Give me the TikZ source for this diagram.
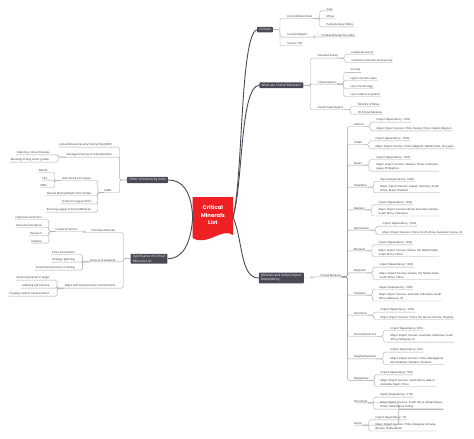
\documentclass[tikz,border=0pt]{standalone}
\usepackage{fontspec}
\setmainfont{Open Sans}
\newfontfamily\poppins{Poppins}
\usetikzlibrary{calc}
\definecolor{dbg}{RGB}{74,74,86}
\definecolor{cred}{RGB}{238,32,36}
\definecolor{ln}{RGB}{165,165,165}
\definecolor{txt}{RGB}{40,40,40}
\tikzset{
 lr/.style={font=\fontsize{2.7}{4}\selectfont, text=txt, inner xsep=0.5pt, inner ysep=0.6pt, anchor=west, align=left},
 ll/.style={lr, anchor=east, align=right},
 dbox/.style={fill=dbg, rounded corners=0.8pt, text=white, font=\fontsize{3.2}{4.2}\selectfont, inner xsep=2.2pt, inner ysep=1.6pt, align=left},
 mainlink/.style={draw=dbg, line width=0.9pt},
 sublink/.style={draw=ln, line width=0.35pt, rounded corners=1.5pt},
}
\newcommand\rlink[2]{\draw[sublink] let \p1=(#1.south east), \p2=(#2.south west) in (\p1) -- ({(\x1+\x2)/2},\y1) |- (\p2) -- (#2.south east);}
\newcommand\rblink[2]{\draw[sublink] let \p1=(#1.east), \p2=(#2.south west) in (\p1) -- ({(\x1+\x2)/2},\y1) |- (\p2) -- (#2.south east);}
\newcommand\llink[2]{\draw[sublink] let \p1=(#1.south west), \p2=(#2.south east) in (\p1) -- ({(\x1+\x2)/2},\y1) |- (\p2) -- (#2.south west);}
\newcommand\lblink[2]{\draw[sublink] let \p1=(#1.west), \p2=(#2.south east) in (\p1) -- ({(\x1+\x2)/2},\y1) |- (\p2) -- (#2.south west);}
\newcommand\mineral[8]{%
 \node[lr] (#1) at (353.3,#2) {#3};
 \node[lr] (#1i) at (#4,#5) {#6};
 \node[lr] (#1m) at (#4,#7) {#8};
 \rlink{crm}{#1}\rlink{#1}{#1i}\rlink{#1}{#1m}}
\begin{document}
\begin{tikzpicture}[x=1pt,y=-1pt]
\fill[white] (0,0) rectangle (474,439);
\useasboundingbox (0,0) rectangle (474,439);

% centre
\fill[cred] (192.7,197) -- (233,197) -- (233,235) .. controls (222,227) and (207,247) .. (192.7,238) -- cycle;
\node[font={\fontsize{5.4}{7.7}\poppins\bfseries}, text=white, align=center] (ttl) at (212.9,215) {Critical\\Minerals\\List};
\coordinate (cR) at (233,217);
\coordinate (cL) at (192.7,217);

% main boxes
\node[dbox] (ctx) at (265,29.7) {Context};
\node[dbox] (what) at (281.3,85.3) {What are Critical Minerals?};
\node[dbox] (mid) at (281.3,278) {Minerals and India's Import\\Dependency};
\node[dbox] (oth) at (147.5,180) {Other Initiatives by India};
\node[dbox] (sig) at (149,258.8) {Significance of Critical\\Minerals List};

\draw[mainlink] (cR) .. controls (243,180) and (240,36) .. (ctx.west);
\draw[mainlink] (cR) .. controls (243,185) and (240,86) .. (what.west);
\draw[mainlink] (cR) .. controls (243,240) and (240,278) .. (mid.west);
\draw[mainlink] (cL) .. controls (191,190) and (182,180) .. (oth.east);
\draw[mainlink] (cL) .. controls (191,245) and (182,258.8) .. (sig.east);

% Context
\node[lr] (umr) at (286.7,16.7) {Union Minister Role};
\node[lr] (unv) at (286.7,35) {Unveiled Report};
\node[lr] (pib) at (286.7,44) {Source: PIB};
\node[lr] (coal) at (326,9) {Coal};
\node[lr] (mines) at (326,16.7) {Mines};
\node[lr] (parl) at (326,24.7) {Parliamentary Affairs};
\node[lr] (cmi) at (320.7,35) {“Critical Minerals for India”};
\rblink{ctx}{umr}\rblink{ctx}{unv}\rblink{ctx}{pib}
\rlink{umr}{coal}\rlink{umr}{mines}\rlink{umr}{parl}
\rlink{unv}{cmi}

% What are
\node[lr] (esg) at (317.5,56) {Essential Group};
\node[lr] (chr) at (317.5,82.3) {Characteristics};
\node[lr] (etr) at (317.5,107.7) {Expert Team Report};
\node[lr] (ind) at (351,52.3) {Industrial sectors};
\node[lr] (cty) at (351,60.3) {Country's economic and security};
\node[lr] (scar) at (350,70.3) {Scarcity};
\node[lr] (hev) at (350,78.3) {High economic value};
\node[lr] (uit) at (350,86.3) {Use in technology};
\node[lr] (uid) at (350,94.3) {Use in defence systems};
\node[lr] (mom) at (357.3,104.3) {Ministry of Mines};
\node[lr] (cmt) at (357.3,112.3) {30 Critical Minerals};
\rblink{what}{esg}\rblink{what}{chr}\rblink{what}{etr}
\rlink{esg}{ind}\rlink{esg}{cty}
\rlink{chr}{scar}\rlink{chr}{hev}\rlink{chr}{uit}\rlink{chr}{uid}
\rlink{etr}{mom}\rlink{etr}{cmt}

% Minerals and import dependency
\node[lr] (crm) at (320,275) {Critical Minerals};
\rblink{mid}{crm}
\mineral{li}{124.7}{Lithium}{376}{120}{Import Dependency: 100\%}{128.7}{Major Import Sources: Chile, Russia, China, Ireland, Belgium}
\mineral{co}{142.7}{Cobalt}{375}{138.7}{Import Dependency: 100\%}{146.7}{Major Import Sources: China, Belgium, Netherlands, US, Japan}
\mineral{ni}{163.3}{Nickel}{376}{157.3}{Import Dependency: 100\%}{167}{Major Import Sources: Sweden, China, Indonesia,\\Japan, Philippines}
\mineral{va}{185.3}{Vanadium}{379.5}{179.3}{Import Dependency: 100\%}{188.8}{Major Import Sources: Kuwait, Germany, South\\Africa, Brazil, Thailand}
\mineral{nb}{208}{Niobium}{378}{202.7}{Import Dependency: 100\%}{212}{Major Import Sources: Brazil, Australia, Canada,\\South Africa, Indonesia}
\mineral{ge}{228.3}{Germanium}{382}{224}{Import Dependency: 100\%}{232.3}{Major Import Sources: China, South Africa, Australia, France, US}
\mineral{rh}{249}{Rhenium}{378}{242.7}{Import Dependency: 100\%}{252.7}{Major Import Sources: Russia, UK, Netherlands,\\South Africa, China}
\mineral{be}{270.7}{Beryllium}{379}{265}{Import Dependency: 100\%}{275.3}{Major Import Sources: Russia, UK, Netherlands,\\South Africa, China}
\mineral{ta}{293.3}{Tantalum}{378.3}{287.3}{Import Dependency: 100\%}{296.8}{Major Import Sources: Australia, Indonesia, South\\Africa, Malaysia, US}
\mineral{sr}{313.3}{Strontium}{380}{310}{Import Dependency: 100\%}{317.3}{Major Import Sources: China, US, Russia, Estonia, Slovenia}
\mineral{zr}{334.3}{Zirconium(zircon)}{390}{328.3}{Import Dependency: 80\%}{338}{Major Import Sources: Australia, Indonesia, South\\Africa, Malaysia, US}
\mineral{gr}{356.7}{Graphite(natural)}{390}{350}{Import Dependency: 60\%}{360.3}{Major Import Sources: China, Madagascar,\\Mozambique, Vietnam, Tanzania}
\mineral{mn}{378.5}{Manganese}{380}{372.7}{Import Dependency: 50\%}{382.8}{Major Import Sources: South Africa, Gabon,\\Australia, Brazil, China}
\mineral{cr}{401}{Chromium}{379.3}{395}{Import Dependency: 2.5\%}{405}{Major Import Sources: South Africa, Mozambique,\\Oman, Switzerland, Turkey}
\mineral{si}{423.3}{Silicon}{375}{417.7}{Import Dependency: 1\%}{427}{Major Import Sources: China, Malaysia, Norway,\\Bhutan, Netherlands}

% Other initiatives
\node[ll] (msp) at (112.5,145) {Joined Mineral Security Partnership (MSP)};
\node[ll] (gsi) at (112.5,155) {Geological Survey of India (GSI) Role};
\node[ll] (kab) at (112.5,190.7) {KABIL};
\node[ll] (exp) at (50,152.7) {Exploring critical minerals};
\node[ll] (boo) at (50,160) {Boosting mining sector growth};
\node[ll] (jvc) at (91.7,178.7) {Joint Venture Company};
\node[ll] (nam) at (91.7,193.3) {Named Khanij Bidesh India Limited};
\node[ll] (frm) at (91.7,201.7) {Formed in August 2019};
\node[ll] (ens) at (91.7,210) {Ensuring supply of Critical Minerals};
\node[ll] (nal) at (48.3,170.7) {NALCO};
\node[ll] (hcl) at (48.3,178.3) {HCL};
\node[ll] (mec) at (48.3,186) {MECL};
\lblink{oth}{msp}\lblink{oth}{gsi}\lblink{oth}{kab}
\llink{gsi}{exp}\llink{gsi}{boo}
\llink{kab}{jvc}\llink{kab}{nam}\llink{kab}{frm}\llink{kab}{ens}
\llink{jvc}{nal}\llink{jvc}{hcl}\llink{jvc}{mec}

% Significance
\node[ll] (pri) at (116,230.7) {Prioritises Minerals};
\node[ll] (saf) at (116,260) {Serve as Framework};
\node[ll] (agc) at (116,286) {Aligns with Government's Commitments};
\node[ll] (isec) at (78.3,229.7) {Industrial Sectors};
\node[ll] (hte) at (42.7,217.3) {High-tech electronics};
\node[ll] (tel) at (42.7,225.7) {Telecommunications};
\node[ll] (tra) at (42.7,233.7) {Transport};
\node[ll] (def) at (42.7,241.3) {Defence};
\node[ll] (pol) at (75.5,252.3) {Policy formulation};
\node[ll] (stp) at (75.5,260) {Strategic planning};
\node[ll] (inv) at (75.5,268) {Investment decisions in mining};
\node[ll] (nz) at (50,278) {Achieving 'Net Zero' target};
\node[ll] (asr) at (50,286) {Attaining self-reliance};
\node[ll] (crs) at (50,294) {Creating resilient mineral sector};
\lblink{sig}{pri}\lblink{sig}{saf}\lblink{sig}{agc}
\llink{pri}{isec}
\llink{isec}{hte}\llink{isec}{tel}\llink{isec}{tra}\llink{isec}{def}
\llink{saf}{pol}\llink{saf}{stp}\llink{saf}{inv}
\llink{agc}{nz}\llink{agc}{asr}\llink{agc}{crs}
\end{tikzpicture}
\end{document}
